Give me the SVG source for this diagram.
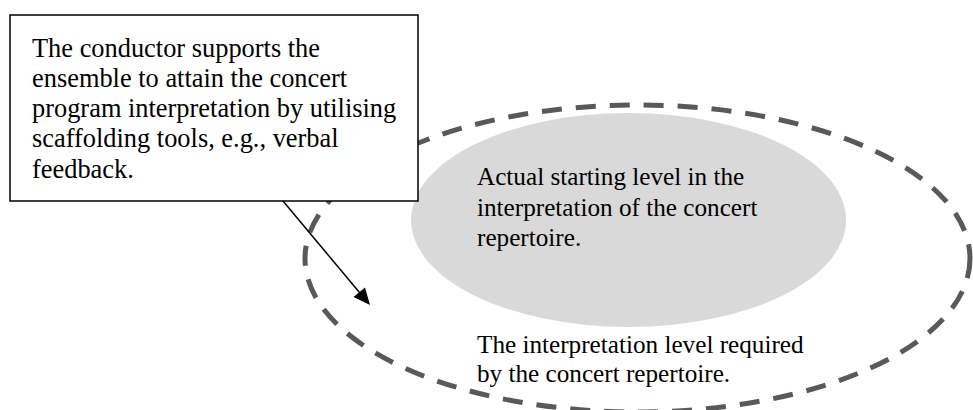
<svg xmlns="http://www.w3.org/2000/svg" width="973" height="410" viewBox="0 0 973 410">
<style>
text{font-family:"Liberation Serif","Times New Roman",serif;font-size:25.2px;fill:#000}
.big{font-size:26.4px}
.dash{fill:none;stroke:#595959;stroke-width:5;stroke-dasharray:20 14}
.box{fill:#fff;stroke:#000;stroke-width:1.5}
.conn{stroke:#000;stroke-width:1.5;fill:none}
</style>
<rect width="973" height="410" fill="#fff"/>
<g id="required-level">
<ellipse class="dash" cx="637.5" cy="258.5" rx="332.5" ry="153.5"/>
<text x="477" y="353">The interpretation level required</text>
<text x="477" y="382">by the concert repertoire.</text>
</g>
<g id="actual-level">
<ellipse cx="628.5" cy="220" rx="217.5" ry="107" fill="#d9d9d9"/>
<text x="477" y="185">Actual starting level in the</text>
<text x="477" y="215.5">interpretation of the concert</text>
<text x="477" y="246">repertoire.</text>
</g>
<g id="conductor">
<rect class="box" x="10" y="15" width="408" height="186"/>
<text class="big" x="32" y="57">The conductor supports the</text>
<text class="big" x="32" y="87">ensemble to attain the concert</text>
<text class="big" x="32" y="117">program interpretation by utilising</text>
<text class="big" x="32" y="147">scaffolding tools, e.g., verbal</text>
<text class="big" x="32" y="178">feedback.</text>
</g>
<g id="connectors">
<line class="conn" x1="283" y1="201" x2="362" y2="295.5"/>
<polygon points="370,305 353.5,297 365,287.5" fill="#000"/>
</g>
</svg>
